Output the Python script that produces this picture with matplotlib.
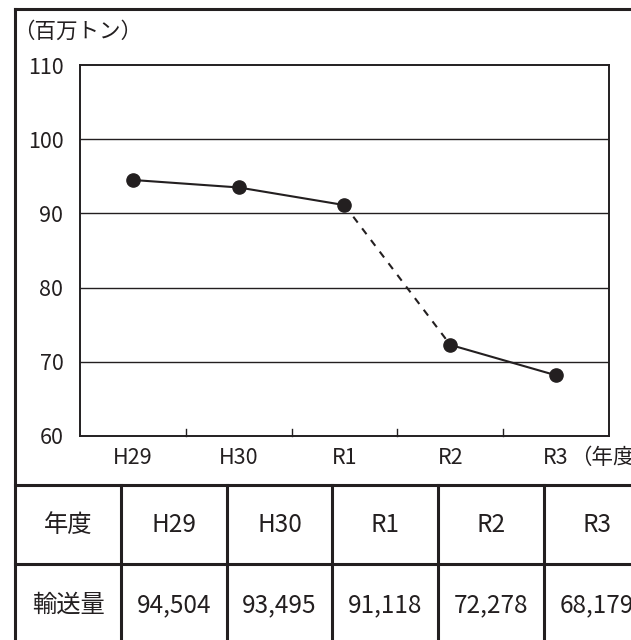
import matplotlib
matplotlib.use("Agg")
from matplotlib import pyplot as plt
from matplotlib.lines import Line2D

plt.rcParams["font.family"] = ["Noto Sans CJK JP", "DejaVu Sans"]

# data
years = ["H29", "H30", "R1", "R2", "R3"]
volume = [94504, 93495, 91118, 72278, 68179]  # 千トン
volume_labels = ["94,504", "93,495", "91,118", "72,278", "68,179"]
yticks = [60, 70, 80, 90, 100, 110]

INK = "#231f20"
W, H = 631, 640

fig = plt.figure(figsize=(W / 100, H / 100), dpi=100)


def fx(px):
    return px / W


def fy(py):
    return 1 - py / H


ax = fig.add_axes([fx(80), fy(436), fx(609) - fx(80), fy(65) - fy(436)])

vals = [v / 1000 for v in volume]
x = list(range(len(years)))

# solid parts, dashed part R1 -> R2
ax.plot(x[:3], vals[:3], color=INK, lw=1.5)
ax.plot(x[2:4], vals[2:4], color=INK, lw=1.5, ls=(0, (3.5, 3.5)))
ax.plot(x[3:], vals[3:], color=INK, lw=1.5)
ax.plot(x, vals, ls="none", marker="o", ms=9.5, color=INK)

ax.set_xlim(-0.5, len(years) - 0.5)
ax.set_ylim(60, 110)
ax.set_yticks(yticks)
ax.set_yticklabels([str(t) for t in yticks], fontsize=15.5, color=INK)
ax.tick_params(axis="y", length=0, pad=12)
for t in yticks[1:-1]:
    ax.axhline(t, color=INK, lw=1.0, zorder=0)

# category labels at centers, small inward ticks at bin edges
ax.set_xticks(x)
ax.set_xticklabels(years, fontsize=15.5, color=INK)
ax.tick_params(axis="x", length=0, pad=8)
for b in [0.5, 1.5, 2.5, 3.5]:
    ax.plot([b, b], [60, 60.9], color=INK, lw=1.0, clip_on=False)

for s in ax.spines.values():
    s.set_color(INK)
    s.set_linewidth(1.4)

fig.text(fx(570), fy(458), "（年度）", fontsize=15.5, color=INK, ha="left", va="center")
fig.text(fx(13), fy(32), "（百万トン）", fontsize=15.5, color=INK, ha="left", va="center")

# outer frame (cropped on right / bottom)
lines = [
    ([15, 15], [8.7, 640]),
    ([15, 640], [8.7, 8.7]),
    ([15, 640], [485, 485]),
    ([15, 640], [564, 564]),
]
for c in [120.7, 226.7, 332.4, 438, 544]:
    lines.append(([c, c], [485, 640]))
for xs, ys in lines:
    fig.add_artist(Line2D([fx(v) for v in xs], [fy(v) for v in ys], color=INK, lw=2.2))

# table text
col_centers = [173.7, 279.6, 385.2, 491, 597]
fig.text(fx(68), fy(525), "年度", fontsize=17.5, color=INK, ha="center", va="center")
fig.text(fx(68), fy(605), "輸送量", fontsize=17.5, color=INK, ha="center", va="center")
for cx, yr, lab in zip(col_centers, years, volume_labels):
    fig.text(fx(cx), fy(525), yr, fontsize=17.5, color=INK, ha="center", va="center")
    fig.text(fx(cx), fy(605), lab, fontsize=17.5, color=INK, ha="center", va="center")

plt.savefig("out.png", dpi=100)
